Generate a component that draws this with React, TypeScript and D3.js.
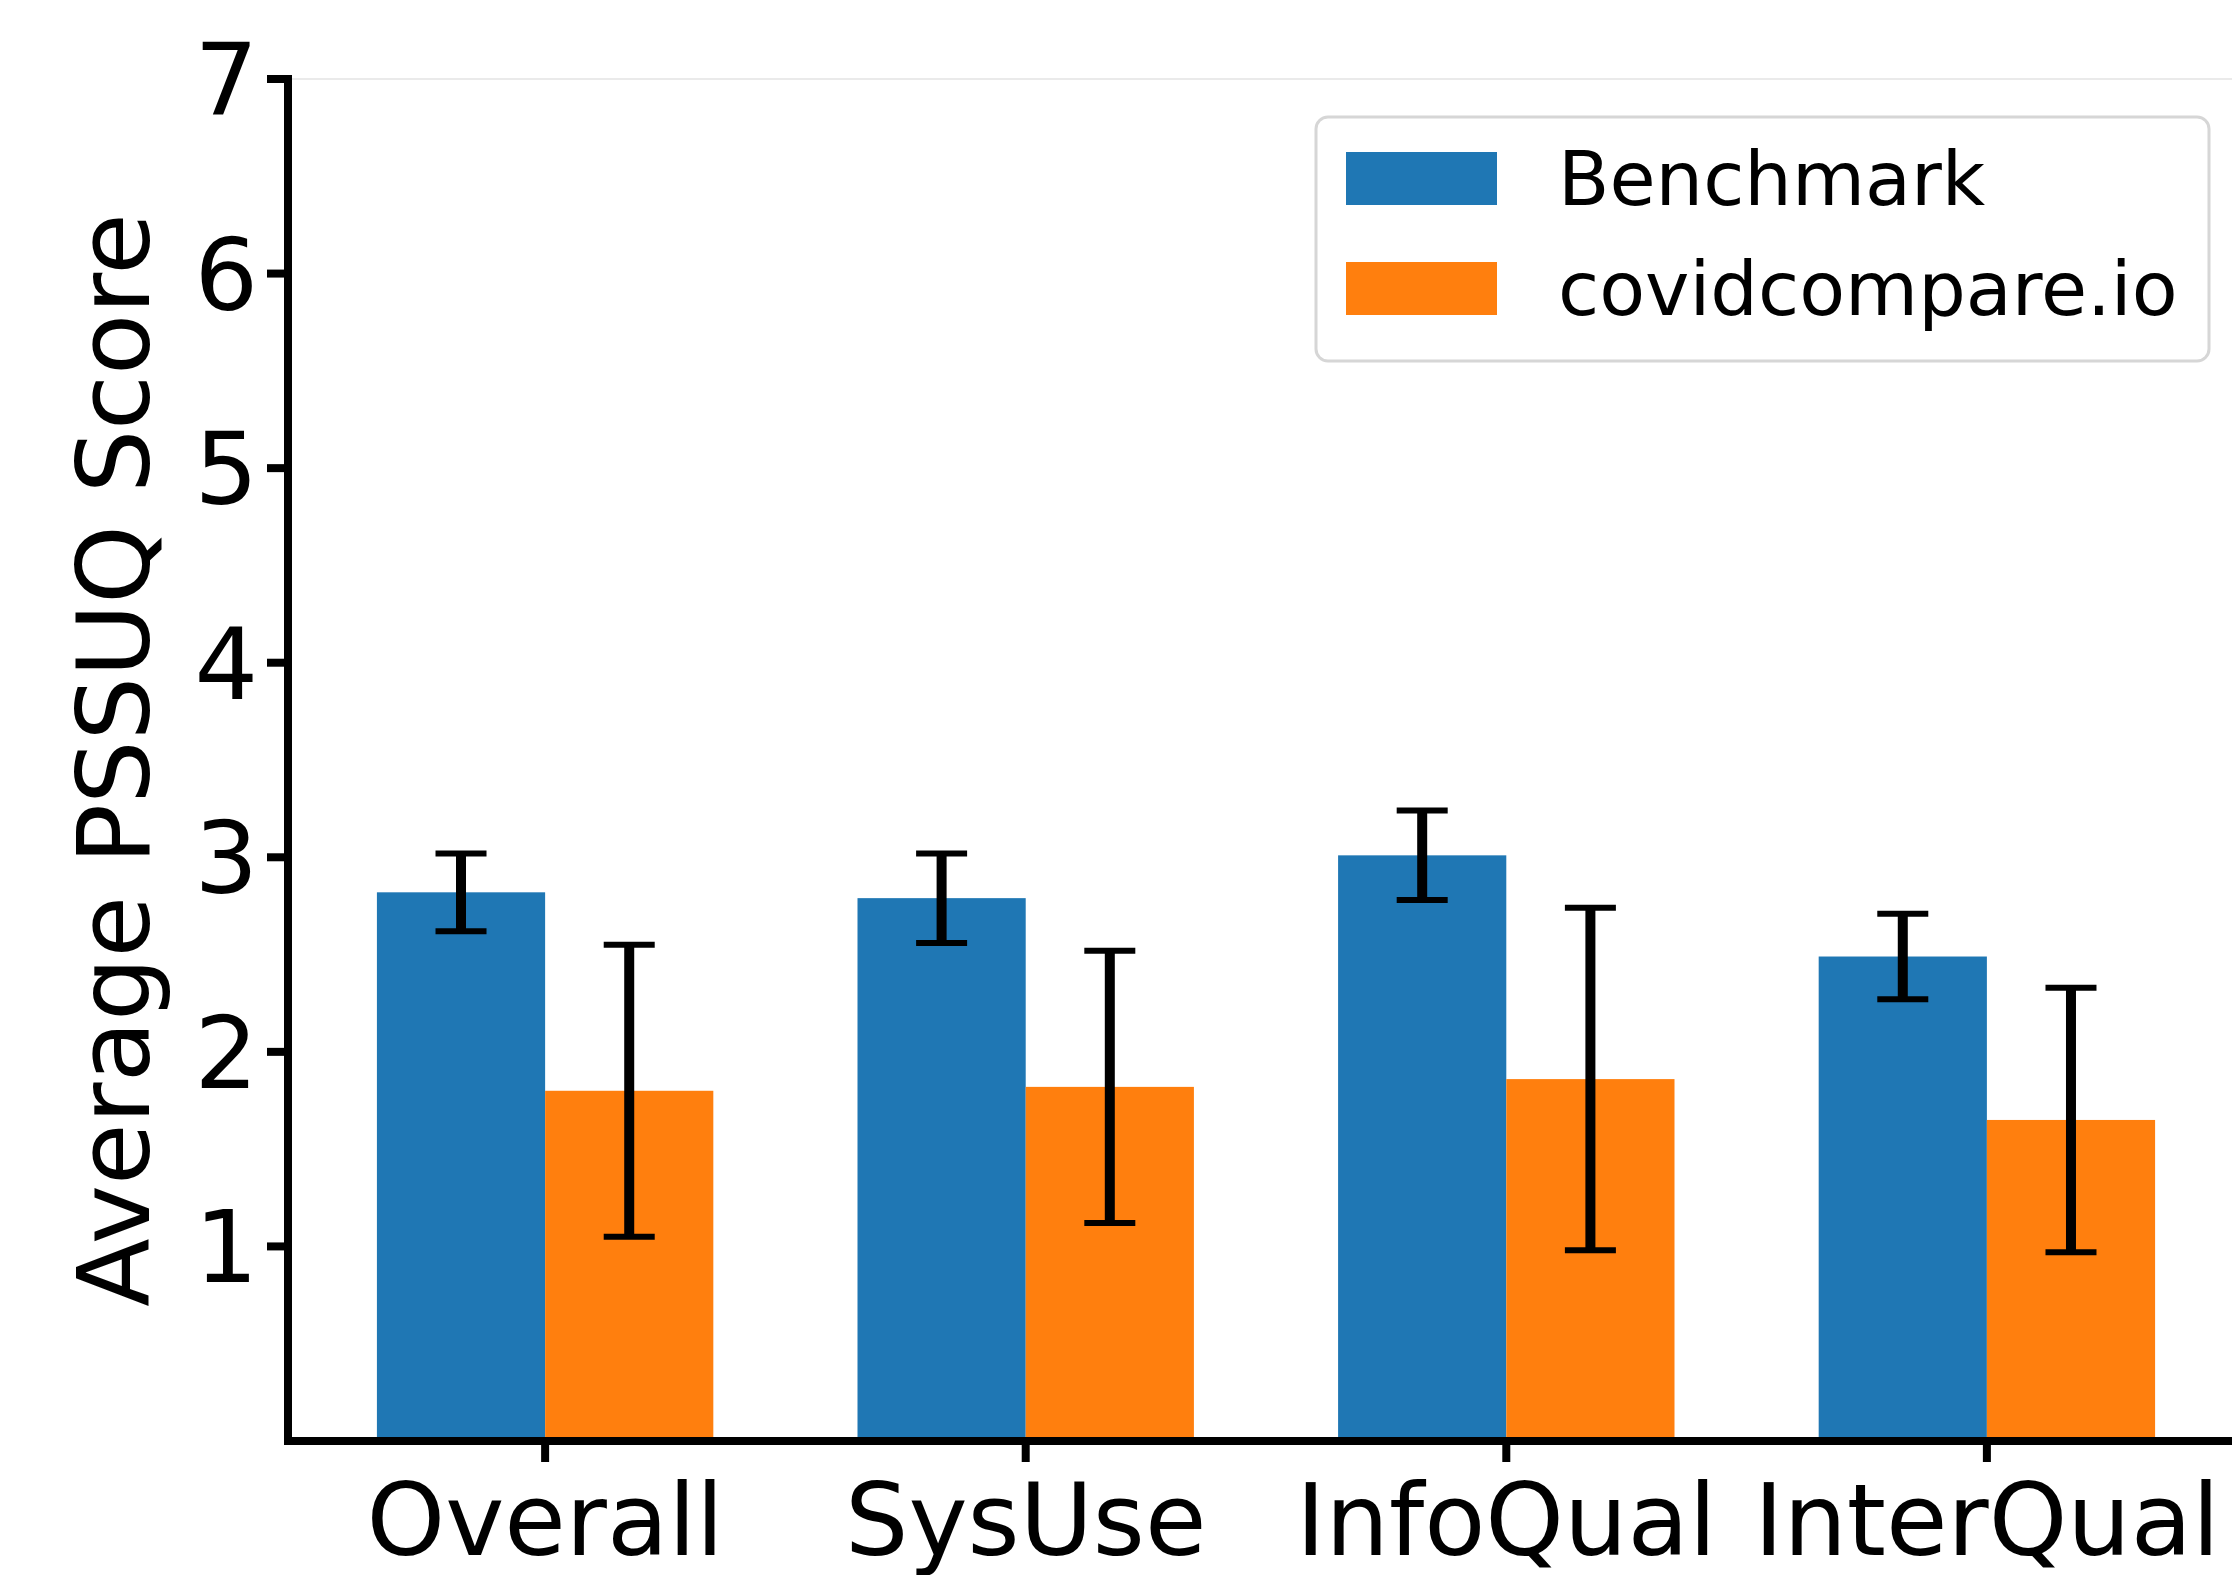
import React, { useEffect, useRef } from "react"
import * as d3 from "d3"

const categories = ["Overall", "SysUse", "InfoQual", "InterQual"]
const seriesNames = ["Benchmark", "covidcompare.io"]
const benchmark = [2.82, 2.79, 3.01, 2.49]
const benchmarkErr = [0.2, 0.23, 0.23, 0.22]
const covid = [1.8, 1.82, 1.86, 1.65]
const covidErr = [0.75, 0.7, 0.88, 0.68]
const yTicks = [1, 2, 3, 4, 5, 6, 7]
const colors = ["#1f77b4", "#ff7f0e"]

const W = 2232
const H = 1575
const FONT = "DejaVu Sans, sans-serif"

const App: React.FC = () => {
	const ref = useRef<SVGSVGElement>(null)

	useEffect(() => {
		const svg = d3.select(ref.current)
		svg.selectAll("*").remove()

		const barW = 0.35
		// x in category units, matplotlib style margins
		const x = d3.scaleLinear().domain([-0.535, 3.535]).range([288, 2244])
		const y = d3.scaleLinear().domain([0, 7]).range([1441, 79])
		const unit = x(1) - x(0)

		const series = [
			{ vals: benchmark, errs: benchmarkErr, off: -barW / 2 },
			{ vals: covid, errs: covidErr, off: barW / 2 },
		]

		// top spine (light)
		svg.append("line")
			.attr("x1", x(-0.535)).attr("x2", W)
			.attr("y1", y(7)).attr("y2", y(7))
			.attr("stroke", "#e3e3e3").attr("stroke-width", 1.5)

		// bars
		series.forEach((s, si) => {
			svg.append("g")
				.selectAll("rect")
				.data(s.vals)
				.join("rect")
				.attr("x", (d, i) => x(i + s.off - barW / 2))
				.attr("width", barW * unit)
				.attr("y", (d) => y(d))
				.attr("height", (d) => y(0) - y(d))
				.attr("fill", colors[si])
		})

		// error bars
		series.forEach((s) => {
			const g = svg.append("g").attr("stroke", "#000")
			s.vals.forEach((v, i) => {
				const cx = x(i + s.off)
				const lo = y(v - s.errs[i])
				const hi = y(v + s.errs[i])
				g.append("line")
					.attr("x1", cx).attr("x2", cx)
					.attr("y1", lo).attr("y2", hi)
					.attr("stroke-width", 10)
				;[lo, hi].forEach((yy) => {
					g.append("line")
						.attr("x1", cx - 25.5).attr("x2", cx + 25.5)
						.attr("y1", yy).attr("y2", yy)
						.attr("stroke-width", 6)
				})
			})
		})

		// spines
		svg.append("line")
			.attr("x1", x(-0.535)).attr("x2", x(-0.535))
			.attr("y1", y(7)).attr("y2", y(0))
			.attr("stroke", "#000").attr("stroke-width", 8)
			.attr("stroke-linecap", "square")
		svg.append("line")
			.attr("x1", x(-0.535)).attr("x2", W)
			.attr("y1", y(0)).attr("y2", y(0))
			.attr("stroke", "#000").attr("stroke-width", 8)
			.attr("stroke-linecap", "square")

		// y ticks
		const yg = svg.append("g")
		yTicks.forEach((t) => {
			yg.append("line")
				.attr("x1", 267).attr("x2", x(-0.535))
				.attr("y1", y(t)).attr("y2", y(t))
				.attr("stroke", "#000").attr("stroke-width", 8)
			yg.append("text")
				.attr("x", 258)
				.attr("y", y(t) + 36)
				.attr("text-anchor", "end")
				.attr("font-family", FONT)
				.attr("font-size", 100)
				.text(t)
		})

		// x ticks
		const xg = svg.append("g")
		categories.forEach((c, i) => {
			xg.append("line")
				.attr("x1", x(i)).attr("x2", x(i))
				.attr("y1", y(0)).attr("y2", 1462)
				.attr("stroke", "#000").attr("stroke-width", 8)
			xg.append("text")
				.attr("x", x(i))
				.attr("y", 1555)
				.attr("text-anchor", "middle")
				.attr("font-family", FONT)
				.attr("font-size", 100)
				.text(c)
		})

		// y label
		svg.append("text")
			.attr("transform", `translate(149,${(y(0) + y(7)) / 2}) rotate(-90)`)
			.attr("text-anchor", "middle")
			.attr("font-family", FONT)
			.attr("font-size", 100)
			.text("Average PSSUQ Score")

		// legend
		const lg = svg.append("g")
		lg.append("rect")
			.attr("x", 1316).attr("y", 117)
			.attr("width", 893).attr("height", 244)
			.attr("rx", 12)
			.attr("fill", "#fff")
			.attr("stroke", "#d6d6d6").attr("stroke-width", 3)
		seriesNames.forEach((n, i) => {
			const base = 205 + i * 110
			lg.append("rect")
				.attr("x", 1346).attr("y", base - 53)
				.attr("width", 151).attr("height", 53)
				.attr("fill", colors[i])
			lg.append("text")
				.attr("x", 1558).attr("y", base)
				.attr("font-family", FONT)
				.attr("font-size", 75)
				.text(n)
		})
	}, [])

	return (
		<svg
			ref={ref}
			width={W}
			height={H}
			style={{ position: "absolute", left: 0, top: 0, background: "#fff" }}
		/>
	)
}

export default App
